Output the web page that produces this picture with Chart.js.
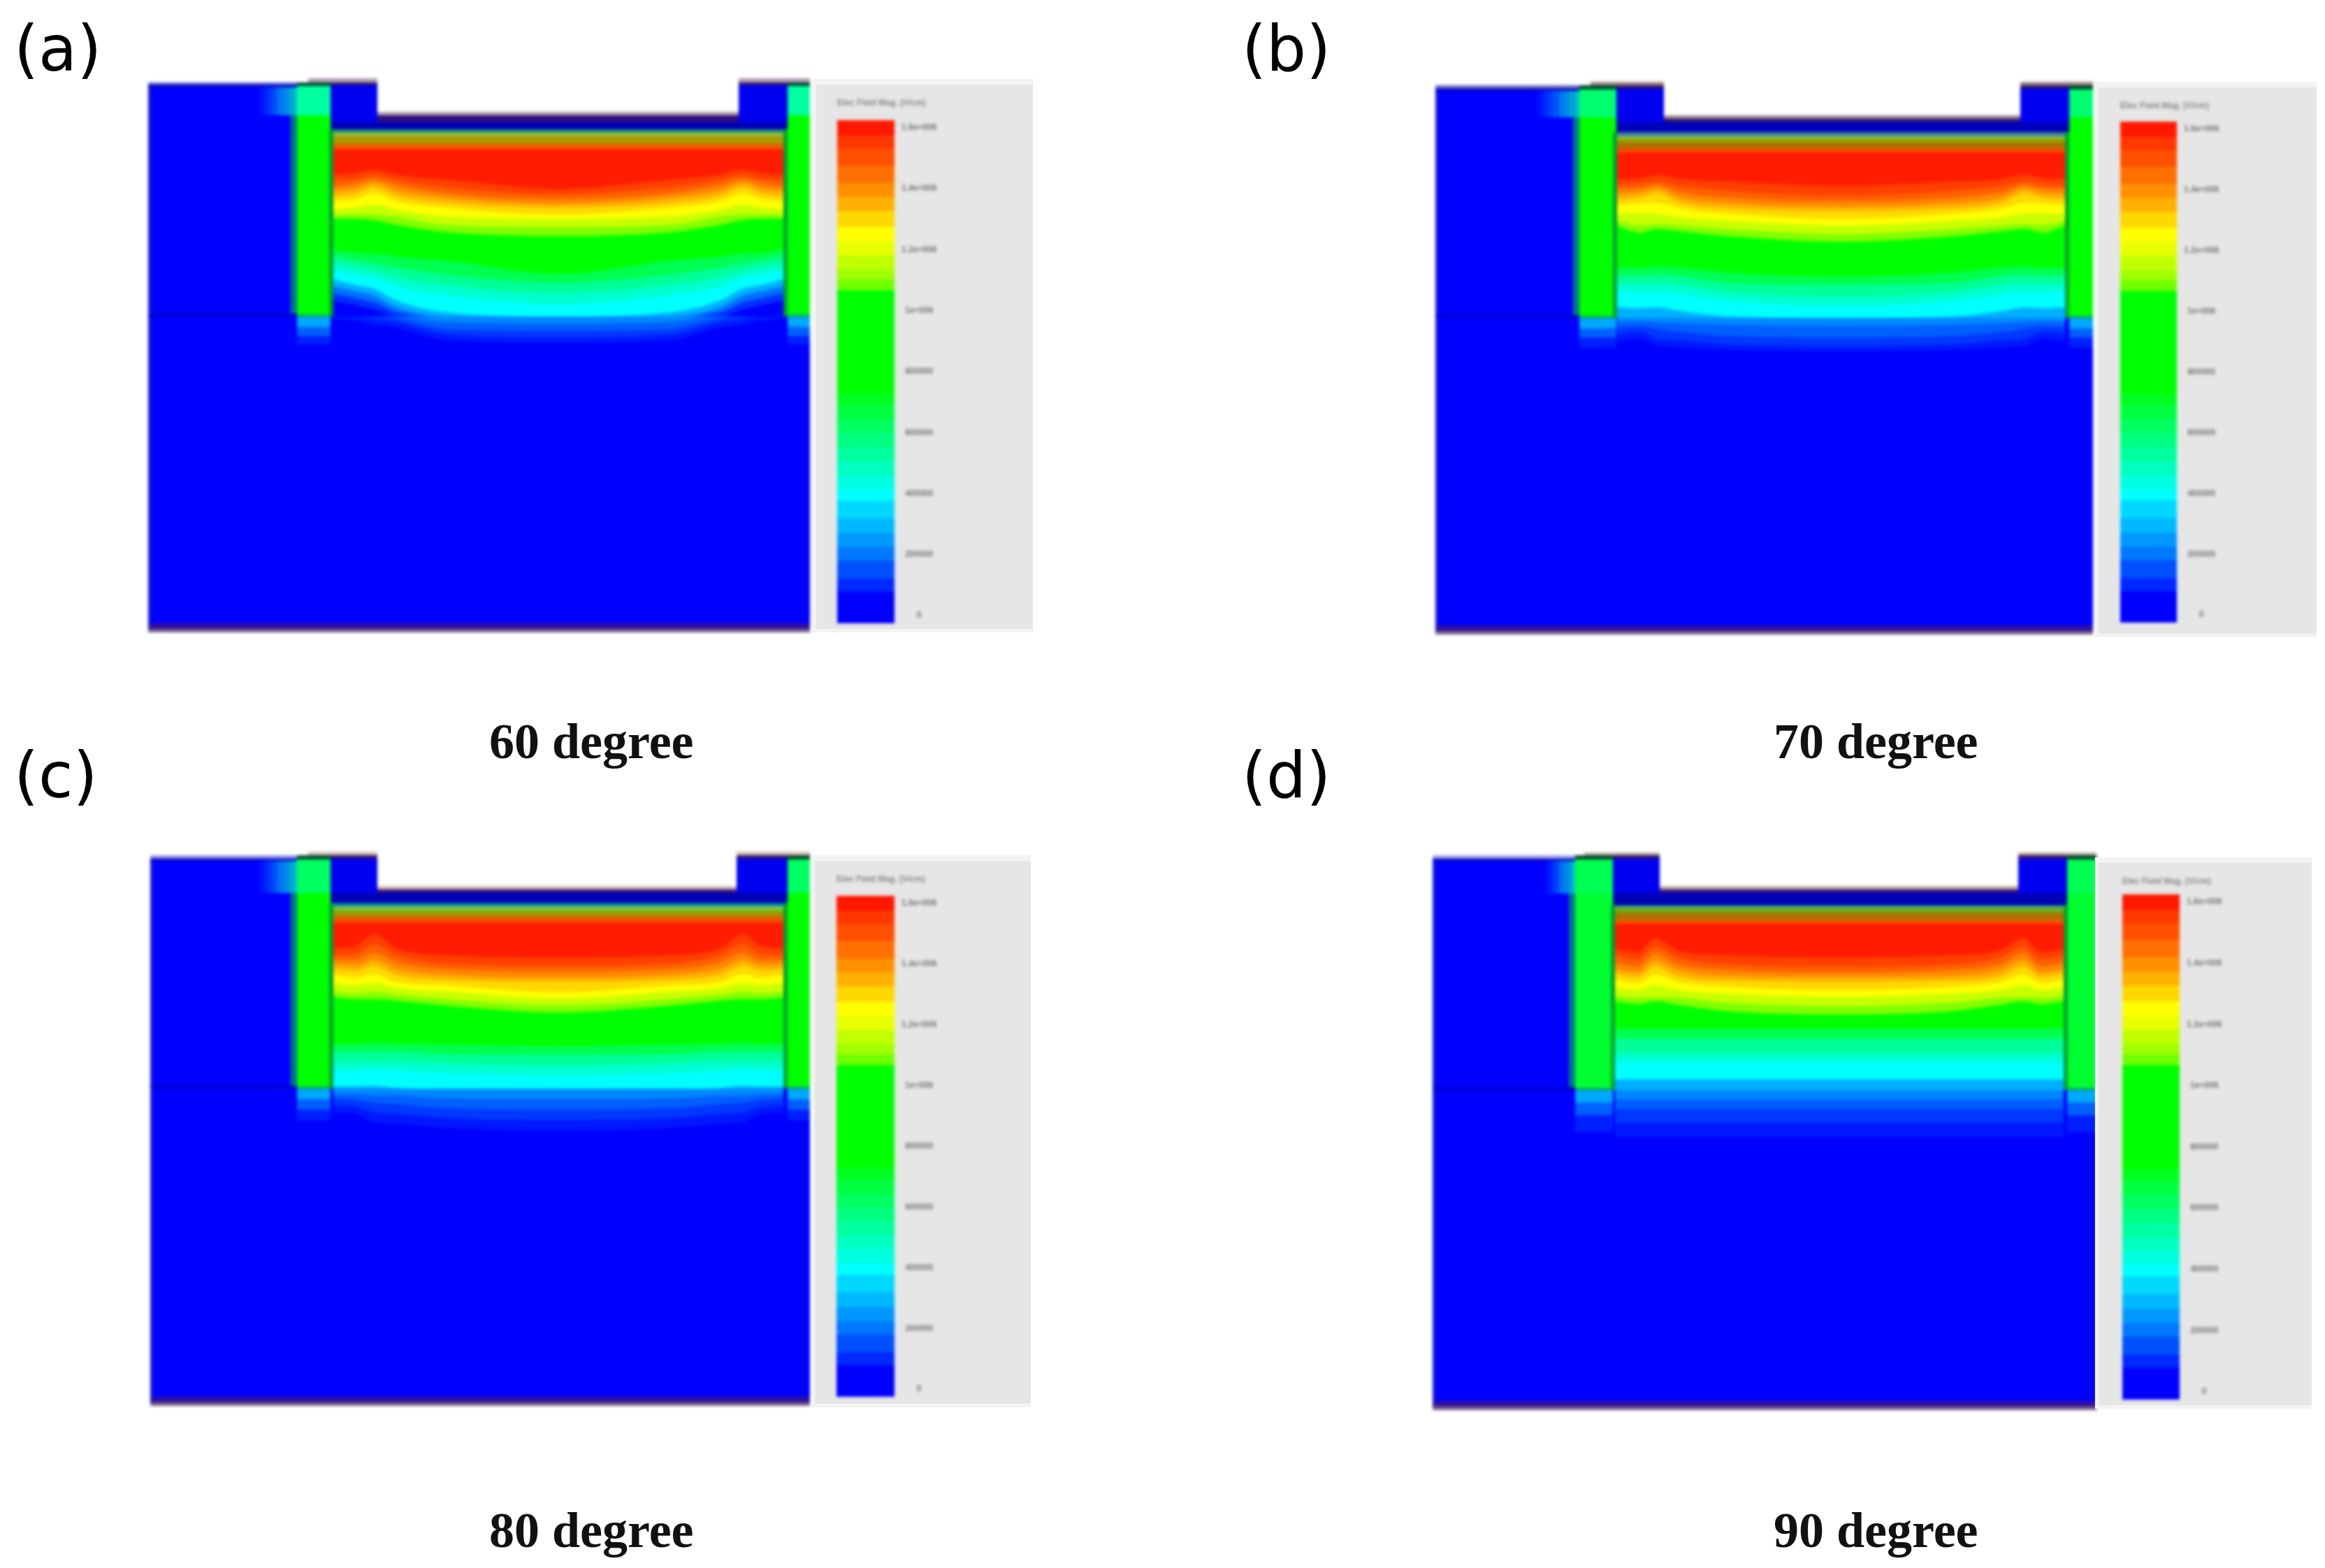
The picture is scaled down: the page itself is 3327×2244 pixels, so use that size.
<!DOCTYPE html>
<html>
<head>
<meta charset="utf-8">
<title>Electric field, 60 to 90 degree</title>
<script src="https://cdn.jsdelivr.net/npm/chart.js@4"></script>
<style>
html,body{margin:0;padding:0;background:#fff;}
#page{position:relative;width:3327px;height:2244px;overflow:hidden;background:#fff;}
canvas{position:absolute;filter:blur(2px);}
.legendbox{position:absolute;background:#e6e6e6;box-sizing:border-box;border:solid #f3f3f3;border-width:8px 0 5px 5px;}
.tag{position:absolute;font:90px "DejaVu Sans";line-height:1;color:#000;}
.cap{position:absolute;font:bold 72px "Liberation Serif";line-height:1;color:#111;}
</style>
</head>
<body>
<div id="page"></div>
<script>
const panelTags = ['(a)','(b)','(c)','(d)'];
const captions = ['60 degree','70 degree','80 degree','90 degree'];

// colour scale of the simulation (V/cm)
const scaleTicks = [0,200000,400000,600000,800000,1000000,1200000,1400000,1600000];
const scaleTickLabels = ['0','200000','400000','600000','800000','1e+006','1.2e+006','1.4e+006','1.6e+006'];
const scaleTitle = 'Elec Field Mag. (V/cm)';
const scaleEdges = [-25000,78000,121000,179000,224000,270000,318000,376000,415000,460000,506000,552000,598000,644000,690000,728000,1067000,1102000,1136000,1182000,1228000,1274000,1326000,1372000,1418000,1475000,1530000,1574000,1625000];
const scaleColors = ['#0000ff','#0028ff','#0050ff','#0078ff','#0098ff','#00b8ff','#00d8ff','#00ffff','#00ffe0','#00ffc0','#00ffa0','#00ff80','#00ff60','#00ff40','#00ff20','#00ff00','#70ff00','#a0ff00','#c0ff00','#e8ff00','#ffff00','#ffd800','#ffb000','#ff9000','#ff7000','#ff5000','#ff3800','#ff1800'];

// trench columns (% of trench width) where the contour depths were read
const contourCols = [0,5,9,14,25,50,75,86,91,95,100];
const contourColors = ['#ff1c00','#ff4000','#ff6000','#ff8800','#ffb000','#ffd800','#ffff00','#c8ff00','#80ff00','#00ff00','#00ff50','#00ff99','#00ffd0','#00ffff','#00b0ff','#0070ff','#0030ff'];
const glowColors = ['#0088ff','#0060ff','#0038ff','#0018ff'];

// depth below the trench top where each colour band ends
const contoursA = [
[65,63,58,65,72,85,72,65,58,63,65],
[73,72,66,73,83,93,83,73,66,72,73],
[82,78,72,80,92,100,92,80,72,78,82],
[88,85,77,88,98,107,98,88,77,85,88],
[95,92,83,95,105,112,105,95,83,92,95],
[103,100,92,103,112,122,112,103,92,100,103],
[115,112,108,115,125,128,125,115,108,112,115],
[123,122,122,125,137,140,137,125,122,122,123],
[128,128,130,137,147,153,147,137,130,128,128],
[172,177,178,182,188,207,188,182,178,177,172],
[182,188,192,198,208,220,208,198,192,188,182],
[192,198,203,212,223,235,223,212,203,198,192],
[202,208,212,225,237,250,237,225,212,208,202],
[215,223,228,245,262,268,262,245,228,223,215],
[225,232,238,255,268,268,268,255,238,232,225],
[235,242,248,262,268,268,268,262,248,242,235],
[245,252,258,268,268,268,268,268,258,252,245]];
const contoursB = [
[67,66,61,67,71,77,71,67,61,66,67],
[76,74,71,77,84,91,84,77,71,74,76],
[82,81,76,86,94,99,94,86,76,81,82],
[89,87,81,94,102,107,102,94,81,87,89],
[96,94,87,101,109,112,109,101,87,94,96],
[104,102,101,109,117,124,117,109,101,102,104],
[117,116,117,122,127,134,127,122,117,116,117],
[127,134,132,134,139,146,139,134,132,134,127],
[134,144,139,142,149,157,149,142,139,144,134],
[194,194,192,194,201,207,201,194,192,194,194],
[204,206,204,206,216,219,216,206,204,206,204],
[216,217,217,219,229,236,229,219,217,217,216],
[227,229,229,232,241,249,241,232,229,229,227],
[251,252,251,256,264,266,264,256,251,252,251],
[266,266,266,266,266,266,266,266,266,266,266],
[266,266,266,266,266,266,266,266,266,266,266],
[266,266,266,266,266,266,266,266,266,266,266]];
const contoursC = [
[65,62,45,65,75,78,75,65,45,62,65],
[75,73,60,75,87,90,87,75,60,73,75],
[82,82,72,85,95,98,95,85,72,82,82],
[88,90,82,95,103,107,103,95,82,90,88],
[95,97,90,103,110,113,110,103,90,97,95],
[103,107,102,113,118,128,118,113,102,107,103],
[115,118,115,122,127,137,127,122,115,118,115],
[127,130,128,132,138,147,138,132,128,130,127],
[135,138,138,140,147,157,147,140,138,138,135],
[202,202,200,202,203,205,203,202,200,202,202],
[213,213,213,213,217,218,217,213,213,213,213],
[227,227,227,227,230,233,230,227,227,227,227],
[240,240,238,240,243,247,243,240,238,240,240],
[263,263,262,265,267,267,267,265,262,263,263],
[267,267,267,267,267,267,267,267,267,267,267],
[267,267,267,267,267,267,267,267,267,267,267],
[267,267,267,267,267,267,267,267,267,267,267]];
const contoursD = [
[63,68,48,65,72,75,72,65,48,68,63],
[73,78,60,75,85,88,85,75,60,78,73],
[83,88,70,85,93,97,93,85,70,88,83],
[92,97,80,93,102,103,102,93,80,97,92],
[98,103,88,102,108,110,108,102,88,103,98],
[107,112,100,110,117,122,117,110,100,112,107],
[118,122,115,122,127,132,127,122,115,122,118],
[130,133,132,133,140,145,140,133,132,133,130],
[138,142,138,143,152,157,152,143,138,142,138],
[177,177,177,177,177,177,177,177,177,177,177],
[192,192,192,192,192,192,192,192,192,192,192],
[212,212,212,212,212,212,212,212,212,212,212],
[225,225,225,225,225,225,225,225,225,225,225],
[250,250,250,250,250,250,250,250,250,250,250],
[265,265,265,265,265,265,265,265,265,265,265],
[265,265,265,265,265,265,265,265,265,265,265],
[265,265,265,265,265,265,265,265,265,265,265]];

// depth below the trench floor where each glow band ends
const glowA = [
[0,0,0,0,8,10,8,0,0,0,0],
[0,0,0,3,18,20,18,3,0,0,0],
[0,0,4,8,26,30,26,8,4,0,0],
[3,6,12,16,34,38,34,16,12,6,3]];
const glowB = [
[6,5,6,8,10,12,10,8,6,5,6],
[14,12,16,20,26,28,26,20,16,12,14],
[24,20,30,32,38,40,38,32,30,20,24],
[34,30,40,42,46,48,46,42,40,30,34]];
const glowC = [
[8,8,10,10,14,15,14,10,10,8,8],
[14,16,20,22,28,30,28,22,20,16,14],
[24,26,34,36,42,45,42,36,34,26,24],
[34,36,48,50,56,60,56,50,48,36,34]];
const glowD = [
[13,13,13,13,13,13,13,13,13,13,13],
[27,27,27,27,27,27,27,27,27,27,27],
[47,47,47,47,47,47,47,47,47,47,47],
[67,67,67,67,67,67,67,67,67,67,67]];

// glow under the side columns
const underColumnDepths = [[15,28,40],[15,28,42],[15,30,45],[18,36,60]];
const underColumnColors = ['#00a8ff','#0060ff','#0020ff'];

// thin flat layers right under the trench top
const stripeDepths = [[5,10,20,25,29],[6,9,14,24,29],[5,10,15,20,25,29],[2,8,12,22,27]];
const stripeColors = [
['#1f8f80','#9cc03a','#a89a00','#dd6a00','#ff4800'],
['#3f7fa0','#90c040','#88b000','#b07000','#ff4800'],
['#0080a0','#80c850','#80b000','#b08800','#e06000','#ff4000'],
['#0060a0','#60b040','#80a000','#b07000','#ff5000']];

// device outline, one entry per panel
const stripTop = [6,5,5,4];
const stripBottom = [10,10,10,9];
const glowStart = [159,145,156,162];
const columnLeft = [213,206,210,204];
const columnLeftEnd = [261,259,258,258];
const columnRight = [915,907,912,908];
const columnSplit = [53,51,59,59];
const metalLeft = [229,222,226,217];
const trenchLeft = [265,260,262,261];
const trenchRight = [909,901,906,903];
const notchLeft = [328,327,325,325];
const notchRight = [845,837,839,838];
const floorTop = [48,48,49,48];
const floorOxide = [53,53,54,53];
const floorBlue = [63,58,59,58];
const trenchTop = [73,72,73,75];
const trenchBottom = [341,338,339,340];

const metalColors = ['#b0a0b0','#a08c88','#d0bcb0','#c0aca0'];
const stripColors = ['#5a5ad0','#6868c0','#9090e0','#a0a0e0'];
const columnTopColors = ['#00ffa0','#00ff70','#00ff60','#00ff50'];
const columnColors = ['#00ff00','#00ff00','#00ff00','#00ff30'];
const sideGlowColors = ['#0010ff','#0028ff','#0040ff','#0058f8','#0078f0','#0090e8','#00a8d8','#00c0c8'];

// page layout
const fieldLeft = [212,2054,215,2050];
const fieldTop = [112,117,1219,1220];
const fieldWidth = [947,941,944,950];
const fieldHeight = [793,791,793,798];
const legendLeft = [1163,2998,1161,2998];
const legendTop = [113,117,1224,1227];
const legendWidth = [315,317,314,310];
const legendHeight = [792,795,790,789];
const barLeft = [1198,3034,1197,3037];
const barRight = [1280,3115,1280,3119];
const barTop = [172,174,1282,1280];
const barBottom = [892,891,1999,2003];
const tagLeft = [20,1777,20,1777];
const tagTop = [25,25,1065,1065];
const capLeft = [700,2538,700,2538];
const capTop = [1025,1025,2154,2154];

const contours = [contoursA,contoursB,contoursC,contoursD];
const glows = [glowA,glowB,glowC,glowD];
const page = document.getElementById('page');

function addCanvas(x,y,w,h){
  const c = document.createElement('canvas');
  c.width = w; c.height = h;
  c.style.left = x+'px'; c.style.top = y+'px';
  c.style.width = w+'px'; c.style.height = h+'px';
  page.appendChild(c);
  return c;
}
function addText(cls,text,x,y){
  const d = document.createElement('div');
  d.className = cls; d.textContent = text;
  d.style.left = x+'px'; d.style.top = y+'px';
  page.appendChild(d);
}

// flat filled region, drawn through the scales
function band(xA,xB,yTop,yBot,color){
  return {data:[{x:xA,y:yBot},{x:xB,y:yBot}],fill:{value:yTop},backgroundColor:color,borderWidth:0,pointRadius:0};
}
// contour curve filled back to a base depth
function curve(xs,depths,base,color){
  return {data:xs.map((x,i)=>({x,y:base+depths[i]})),fill:{value:base},backgroundColor:color,borderWidth:0,pointRadius:0,cubicInterpolationMode:'monotone'};
}

function fieldLayers(i){
  const W = fieldWidth[i], H = fieldHeight[i];
  const tl = trenchLeft[i], tr = trenchRight[i], tt = trenchTop[i], tb = trenchBottom[i];
  const cl = columnLeft[i], ce = columnLeftEnd[i], cr = columnRight[i], split = columnSplit[i];
  const xs = contourCols.map(f=>tl+f/100*(tr-tl));
  const out = [];
  // substrate and surface
  out.push(band(0,W,stripBottom[i],H,'#0000ff'));
  out.push(band(0,5,stripBottom[i],H,'#1414d8'));
  out.push(band(0,metalLeft[i],stripTop[i],stripBottom[i],stripColors[i]));
  out.push(band(0,cl,stripBottom[i],stripBottom[i]+4,'#0000c8'));
  // glow left of the column, near the surface
  const gw = (cl-glowStart[i])/sideGlowColors.length;
  sideGlowColors.forEach((col,k)=>{
    out.push(band(glowStart[i]+k*gw,glowStart[i]+(k+1)*gw,stripBottom[i]+3,split,col));
  });
  // gate metal and oxide
  out.push(band(metalLeft[i],notchLeft[i],0,stripTop[i],metalColors[i]));
  out.push(band(notchRight[i],W,0,stripTop[i],metalColors[i]));
  out.push(band(metalLeft[i],notchLeft[i],stripTop[i],stripBottom[i],'#301870'));
  out.push(band(notchRight[i],W,stripTop[i],stripBottom[i],'#301870'));
  out.push(band(ce,notchLeft[i],stripBottom[i],tt,'#0000f0'));
  out.push(band(notchRight[i],cr,stripBottom[i],tt,'#0000f0'));
  // notch
  out.push(band(notchLeft[i],notchRight[i],floorOxide[i],floorBlue[i],'#301080'));
  out.push(band(notchLeft[i],notchRight[i],floorTop[i],floorOxide[i],metalColors[i]));
  out.push(band(notchLeft[i],notchRight[i],0,floorTop[i],'#ffffff'));
  out.push(band(ce,cr,floorBlue[i],tt,'#0000b8'));
  // contours, deepest first
  for(let k=contourColors.length-1;k>=0;k--) out.push(curve(xs,contours[i][k],tt,contourColors[k]));
  for(let k=stripeDepths[i].length-1;k>=0;k--) out.push(band(tl,tr,tt,tt+stripeDepths[i][k],stripeColors[i][k]));
  // glow under the trench floor
  for(let k=glowColors.length-1;k>=0;k--) out.push(curve(xs,glows[i][k],tb,glowColors[k]));
  // side columns
  [[cl,ce],[cr,W]].forEach(([a,b])=>{
    for(let k=underColumnColors.length-1;k>=0;k--) out.push(band(a,b,tb,tb+underColumnDepths[i][k],underColumnColors[k]));
    out.push(band(a,b,stripBottom[i]+1,split,columnTopColors[i]));
    out.push(band(a,b,split,tb-3,columnColors[i]));
    out.push(band(a,b,tb-3,tb+1,'#00a878'));
    out.push(band(a,b,stripTop[i],stripBottom[i]+1,'#004830'));
  });
  out.push(band(cl-9,cl,split,tb-3,'#007888'));
  out.push(band(tl-6,tl,tt,tb,'#00a030'));
  out.push(band(tr,tr+6,tt,tb,'#00a030'));
  // dark line where the column ends, and the bottom contact
  out.push(band(0,cl,tb-4,tb,'#0000c8'));
  out.push(band(0,W,H-13,H-5,'#3010a0'));
  out.push(band(0,W,H-5,H,'#786088'));
  return out;
}

function drawField(i){
  const cv = addCanvas(fieldLeft[i],fieldTop[i],fieldWidth[i],fieldHeight[i]);
  const layers = fieldLayers(i);
  layers.forEach((d,k)=>{d.order = layers.length-k;});
  new Chart(cv,{
    type:'line',
    data:{datasets:layers},
    options:{
      responsive:false,animation:false,devicePixelRatio:1,
      layout:{padding:0,autoPadding:false},
      plugins:{legend:{display:false},tooltip:{enabled:false},title:{display:false}},
      scales:{
        x:{type:'linear',display:false,min:0,max:fieldWidth[i]},
        y:{type:'linear',display:false,reverse:true,min:0,max:fieldHeight[i]}
      }
    }
  });
}

function drawScale(i){
  const box = document.createElement('div');
  box.className = 'legendbox';
  box.style.cssText = `left:${legendLeft[i]}px;top:${legendTop[i]}px;width:${legendWidth[i]}px;height:${legendHeight[i]}px`;
  page.appendChild(box);
  const cv = addCanvas(legendLeft[i],legendTop[i],legendWidth[i],legendHeight[i]);
  new Chart(cv,{
    type:'bar',
    data:{
      labels:['E'],
      datasets:scaleColors.map((c,k)=>({data:[[scaleEdges[k],scaleEdges[k+1]]],backgroundColor:c,borderWidth:0,barPercentage:1,categoryPercentage:1}))
    },
    options:{
      responsive:false,animation:false,devicePixelRatio:1,
      layout:{padding:{left:barLeft[i]-legendLeft[i],right:0,top:0,bottom:legendTop[i]+legendHeight[i]-barBottom[i]},autoPadding:false},
      plugins:{
        legend:{display:false},tooltip:{enabled:false},
        title:{display:true,text:scaleTitle,align:'start',color:'#888',font:{size:12,weight:'bold',family:'"Liberation Sans"'},
          padding:{top:27,bottom:barTop[i]-legendTop[i]-27-14.4}}
      },
      scales:{
        x:{display:false,stacked:true},
        y:{
          position:'right',min:scaleEdges[0],max:scaleEdges[scaleEdges.length-1],
          grid:{display:false,drawTicks:false},border:{display:false},
          afterBuildTicks:s=>{s.ticks = scaleTicks.map(v=>({value:v}));},
          afterFit:s=>{s.width = legendLeft[i]+legendWidth[i]-barRight[i]; s.paddingTop = 0; s.paddingBottom = 0;},
          ticks:{
            autoSkip:false,crossAlign:'center',padding:10,color:'#777',
            font:{size:12,weight:'bold',family:'"Liberation Sans"'},
            callback:v=>scaleTickLabels[scaleTicks.indexOf(v)]
          }
        }
      }
    }
  });
}

panelTags.forEach((tag,i)=>{
  drawField(i);
  drawScale(i);
  addText('tag',tag,tagLeft[i],tagTop[i]);
  addText('cap',captions[i],capLeft[i],capTop[i]);
});
</script>
</body>
</html>
